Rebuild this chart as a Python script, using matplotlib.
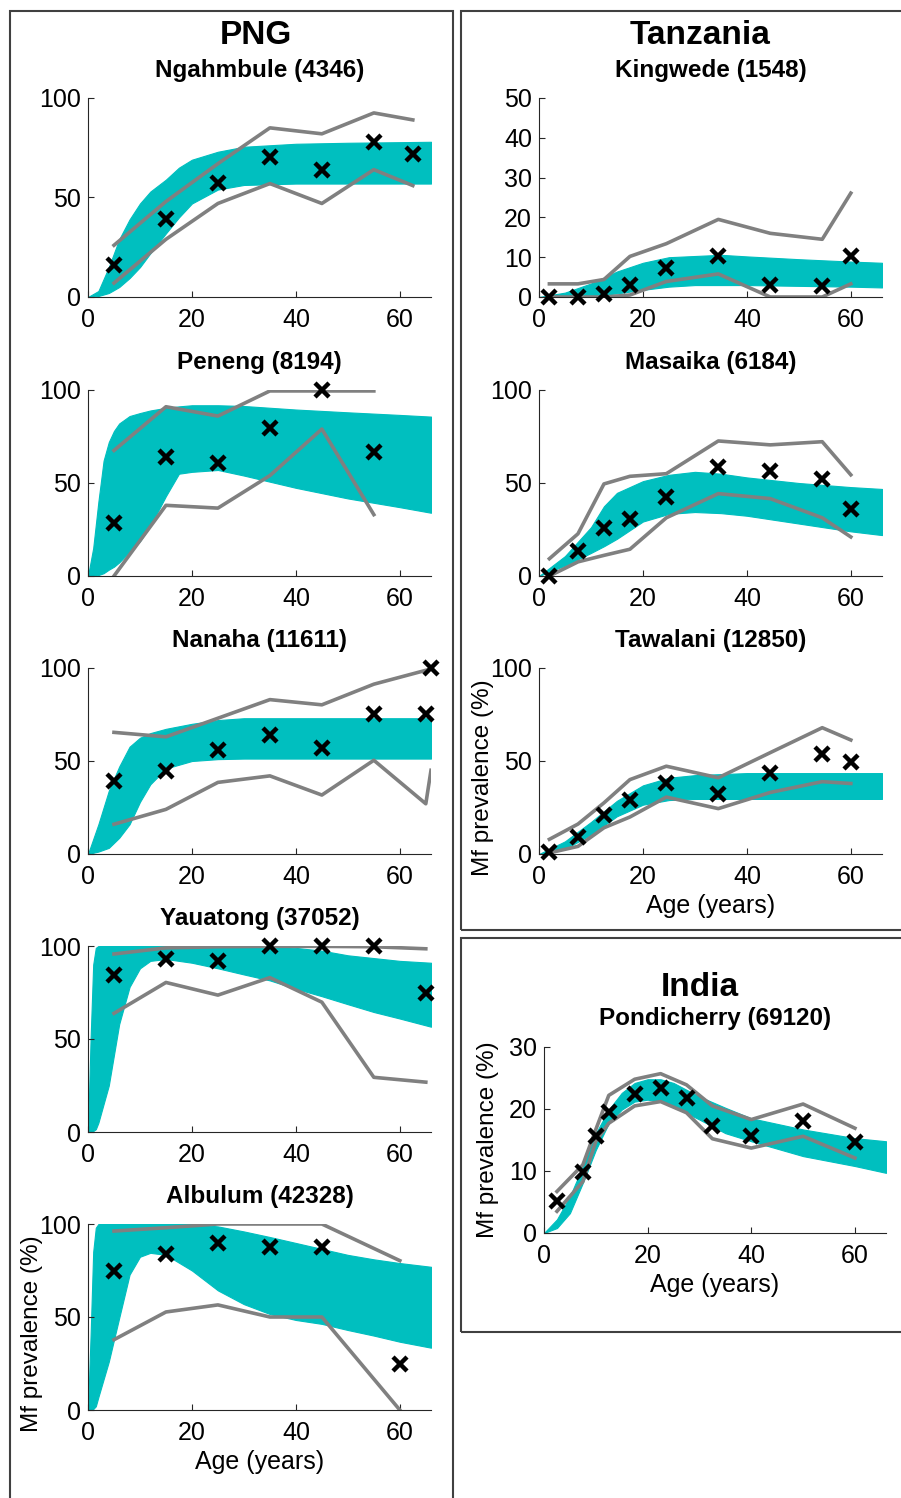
import matplotlib
matplotlib.use("Agg")
import matplotlib.pyplot as plt
from matplotlib.patches import Rectangle

plt.rcParams["font.family"] = ["Liberation Sans", "DejaVu Sans"]

W, H = 901, 1498
CYAN = "#00BFBF"
GREY = "#808080"
FRAME = "#404040"

# -----------------------------
# Data
# -----------------------------
# PNG
ngah_age = [5, 15, 25, 35, 45, 55, 62.5]
ngah_obs = [16, 39, 57.5, 70.5, 64, 78, 72]
ngah_hi = [26, 48, 67, 85, 82, 92.5, 89]
ngah_lo = [7, 29, 47, 57, 47, 64, 56]
ngah_band_age = [0, 2, 4, 6, 8, 10, 12, 15, 17.5, 20, 25, 30, 40, 50, 60, 66]
ngah_band_hi = [0, 3, 15, 29, 39, 47, 53, 59, 65, 69, 73, 75.5, 77, 77.5, 77.8, 78]
ngah_band_lo = [0, 0.5, 2, 5, 9.5, 15, 22, 32, 40, 47, 54, 56.3, 57, 57, 57, 57]

pen_age = [5, 15, 25, 35, 45, 55]
pen_obs = [28.5, 64, 61, 79.5, 100, 66.5]
pen_hi = [67.5, 91, 86, 99.5, 99.5, 99.5]
pen_lo = [0, 38, 36.5, 54, 79, 33]
pen_band_age = [0, 1, 2, 3, 4, 5, 6, 8, 10, 12, 15, 17.5, 20, 25, 30, 40, 50, 60, 66]
pen_band_hi = [0, 15, 40, 62, 72, 78, 82, 86, 87.6, 89, 90.4, 91.2, 91.8, 91.8, 91.4, 89.5, 88, 86.6, 85.7]
pen_band_lo = [0, 0, 0.5, 1.5, 3.4, 5, 7.3, 13, 18.7, 27, 43, 55, 56, 57, 54, 47.4, 41.7, 37, 34]

nan_age = [5, 15, 25, 35, 45, 55, 65, 66]
nan_obs = [39, 44.5, 56, 64, 57, 75, 75, 100]
nan_hi_age = [5, 15, 25, 35, 45, 55, 66]
nan_hi = [65.4, 63, 73, 83, 80.2, 91.3, 99.5]
nan_lo = [16, 24, 38.5, 42, 31.7, 50.4, 27, 45]
nan_band_age = [0, 2, 4, 6, 8, 10, 12, 15, 20, 25, 30, 40, 50, 60, 66]
nan_band_hi = [0, 16, 34, 47, 57.7, 62.5, 65, 67.3, 70, 72, 73, 73, 73, 73, 73]
nan_band_lo = [0, 1.3, 3.3, 8.7, 16, 28, 37.5, 46, 50, 51, 51.3, 51.3, 51.3, 51.3, 51.3]

yau_age = [5, 15, 25, 35, 45, 55, 65]
yau_obs = [84.3, 93.2, 92, 100, 100, 100, 75]
yau_hi = [95.7, 99, 99.6, 99.8, 99.8, 99.6, 98.5]
yau_lo = [63.8, 80.4, 73.6, 83, 69.8, 29.4, 26.8]
yau_band_age = [0, 0.5, 1, 1.5, 2, 4, 6, 8, 10, 12, 15, 20, 25, 30, 35, 40, 45, 50, 55, 60, 66]
yau_band_hi = [0, 50, 90, 99, 100, 100, 100, 100, 100, 100, 100, 100, 100, 100, 99.8, 99, 97.5, 95, 93.5, 92, 91]
yau_band_lo = [0, 0, 0.5, 1.5, 5, 25, 58, 78, 88, 92, 93, 91, 88, 84.7, 81.5, 77, 73, 68.7, 64.5, 61, 56.6]

alb_age = [5, 15, 25, 35, 45, 60]
alb_obs = [75, 84, 90, 87.7, 87.7, 25]
alb_hi = [96.2, 98, 100, 100, 100, 80.3]
alb_lo = [37.8, 52.7, 56.5, 50, 50, 0]
alb_band_age = yau_band_age
alb_band_hi = [0, 40, 85, 98, 100, 100, 100, 100, 100, 100, 100, 100, 98.7, 96, 93, 89.8, 86.6, 83.4, 81, 79, 77]
alb_band_lo = [0, 0, 0.5, 2, 7, 26, 49.5, 72.8, 82.4, 84.5, 83.4, 75, 64.3, 56.9, 51.6, 48.4, 46.3, 43, 40, 36.7, 33.5]

# Tanzania
tz_age = [2, 7.5, 12.5, 17.5, 24.5, 34.5, 44.5, 54.5, 60]

king_obs = [0, 0, 0.7, 3, 7.2, 10.4, 3, 2.8, 10.3]
king_hi = [3.3, 3.3, 4.4, 10.2, 13.4, 19.5, 16, 14.5, 26.1]
king_lo = [0, 0, 0, 0.5, 3.9, 5.8, 0, 0, 3.3]
king_band_age = [0, 5, 10, 15, 20, 25, 30, 35, 40, 50, 60, 66]
king_band_hi = [0, 1.1, 3.4, 6.4, 8.6, 10, 10.3, 10.6, 10.2, 9.5, 8.9, 8.6]
king_band_lo = [0, 0.1, 0.3, 0.9, 1.8, 2.6, 3, 3, 3, 2.8, 2.6, 2.4]

mas_obs = [0, 13.4, 25.8, 30.7, 42.7, 58.8, 56.5, 52, 35.9]
mas_hi = [9.3, 22.7, 49.5, 53.6, 55, 72.6, 70.5, 72.2, 54.4]
mas_lo = [0, 7.6, 11.1, 14.4, 31.3, 44.3, 41.6, 31.3, 21]
mas_band_age = [0, 5, 10, 12.5, 15, 20, 25, 30, 35, 40, 50, 60, 66]
mas_band_hi = [0, 10.7, 26.2, 37.5, 44.7, 51, 54.4, 56, 55, 53, 50, 47.8, 46.8]
mas_band_lo = [0, 5.6, 12.4, 16, 20, 29.3, 33.4, 34.4, 33.8, 32.4, 28.2, 24, 22]

taw_obs = [1.2, 8.9, 20.7, 29, 38.3, 32.1, 43.5, 53.8, 49.3]
taw_hi = [7.9, 16.1, 27.5, 40, 47.2, 41, 54.5, 67.9, 61.3]
taw_lo = [0.6, 4.1, 14.1, 19.9, 30.6, 24.4, 33.1, 38.9, 37.9]
taw_band_age = [0, 5, 10, 15, 20, 25, 30, 40, 50, 60, 66]
taw_band_hi = [0, 6.8, 17.2, 28.6, 36.9, 41, 42.4, 43.5, 43.5, 43.5, 43.5]
taw_band_lo = [0, 2.7, 10.4, 20.3, 26.5, 29, 29.6, 29.6, 29.6, 29.6, 29.6]

# India
pon_age = [2.5, 7.5, 10, 12.5, 17.5, 22.5, 27.5, 32.5, 40, 50, 60]
pon_obs = [5.1, 9.9, 15.7, 19.5, 22.5, 23.4, 21.7, 17.3, 15.6, 18.1, 14.7]
pon_hi = [6.7, 11, 16.7, 22.2, 24.8, 25.7, 23.9, 20.5, 18.3, 20.8, 16.9]
pon_lo = [3.5, 8.3, 14.8, 17.7, 20.5, 21.2, 19.4, 15.2, 13.7, 15.6, 12.1]
pon_band_age = [0, 2.5, 5, 7.5, 10, 12.5, 15, 17.5, 20, 22.5, 25, 30, 35, 40, 50, 60, 66]
pon_band_hi = [0, 2.2, 5.9, 10.8, 16.1, 19.9, 22.6, 24.2, 24.8, 24.8, 24.2, 22, 20.2, 18.5, 16.7, 15.3, 14.8]
pon_band_lo = [0, 0.8, 3.2, 8.1, 13.4, 17.7, 19.9, 21.2, 21.5, 21.2, 20.4, 18.3, 16.1, 14.8, 12.4, 10.8, 9.7]

# -----------------------------
# Panel table: title, axes box in px (x0, x1, top, bottom), ymax, yticks,
# obs/hi/lo series, band, y position of the y label (None = no axis labels)
# -----------------------------
L0, L1 = 88, 431
R0, R1 = 539, 882
panels = [
    ("Ngahmbule (4346)", (L0, L1, 98, 297), 100, [0, 50, 100],
     ngah_age, ngah_obs, ngah_age, ngah_hi, ngah_age, ngah_lo,
     ngah_band_age, ngah_band_hi, ngah_band_lo, None),
    ("Peneng (8194)", (L0, L1, 390, 576), 100, [0, 50, 100],
     pen_age, pen_obs, pen_age, pen_hi, pen_age, pen_lo,
     pen_band_age, pen_band_hi, pen_band_lo, None),
    ("Nanaha (11611)", (L0, L1, 668, 854), 100, [0, 50, 100],
     nan_age, nan_obs, nan_hi_age, nan_hi, nan_age, nan_lo,
     nan_band_age, nan_band_hi, nan_band_lo, None),
    ("Yauatong (37052)", (L0, L1, 946, 1132), 100, [0, 50, 100],
     yau_age, yau_obs, yau_age, yau_hi, yau_age, yau_lo,
     yau_band_age, yau_band_hi, yau_band_lo, None),
    ("Albulum (42328)", (L0, L1, 1224, 1410), 100, [0, 50, 100],
     alb_age, alb_obs, alb_age, alb_hi, alb_age, alb_lo,
     alb_band_age, alb_band_hi, alb_band_lo, 0.41),
    ("Kingwede (1548)", (R0, R1, 98, 297), 50, [0, 10, 20, 30, 40, 50],
     tz_age, king_obs, tz_age, king_hi, tz_age, king_lo,
     king_band_age, king_band_hi, king_band_lo, None),
    ("Masaika (6184)", (R0, R1, 390, 576), 100, [0, 50, 100],
     tz_age, mas_obs, tz_age, mas_hi, tz_age, mas_lo,
     mas_band_age, mas_band_hi, mas_band_lo, None),
    ("Tawalani (12850)", (R0, R1, 668, 854), 100, [0, 50, 100],
     tz_age, taw_obs, tz_age, taw_hi, tz_age, taw_lo,
     taw_band_age, taw_band_hi, taw_band_lo, 0.41),
    ("Pondicherry (69120)", (544, 886, 1047, 1233), 30, [0, 10, 20, 30],
     pon_age, pon_obs, pon_age, pon_hi, pon_age, pon_lo,
     pon_band_age, pon_band_hi, pon_band_lo, 0.5),
]

fig = plt.figure(figsize=(W / 100, H / 100), dpi=100)

# group frames
for x0, x1, y0, y1 in [(10, 453, 11, 1510), (461, 910, 11, 930), (461, 910, 938, 1332)]:
    fig.patches.append(Rectangle((x0 / W, 1 - y1 / H), (x1 - x0) / W, (y1 - y0) / H,
                                 transform=fig.transFigure, fill=False,
                                 edgecolor=FRAME, linewidth=1.5))

FS = 18
for (title, (x0, x1, top, bot), ymax, yticks, oa, ov, ha, hv, la, lv,
     ba, bh, bl, ylab_pos) in panels:
    ax = fig.add_axes([x0 / W, 1 - bot / H, (x1 - x0) / W, (bot - top) / H])
    ax.fill_between(ba, bl, bh, color=CYAN, linewidth=0.8, edgecolor=CYAN, zorder=1)
    ax.plot(ha, hv, color=GREY, lw=2.6, zorder=2)
    ax.plot(la, lv, color=GREY, lw=2.6, zorder=2)
    ax.plot(oa, ov, "x", color="black", ms=10.5, mew=3.2, zorder=3, clip_on=False)

    ax.set_xlim(0, 66)
    ax.set_ylim(0, ymax)
    ax.set_xticks([0, 20, 40, 60])
    ax.set_yticks(yticks)
    ax.spines["top"].set_visible(False)
    ax.spines["right"].set_visible(False)
    for s in ("left", "bottom"):
        ax.spines[s].set_color("#262626")
        ax.spines[s].set_linewidth(0.8)
    ax.tick_params(direction="in", length=4, width=0.8, color="#262626",
                   labelsize=FS)
    ax.tick_params(axis="x", pad=8)
    ax.tick_params(axis="y", pad=5)

    cx = (x0 + x1) / 2
    fig.text(cx / W, 1 - (top - 28) / H, title, ha="center", va="center",
             fontsize=17.5, fontweight="bold")

    if ylab_pos is not None:
        ax.set_ylabel("Mf prevalence (%)", fontsize=17.5, va="center")
        ax.yaxis.set_label_coords(-56 / (x1 - x0), ylab_pos)
        ax.set_xlabel("Age (years)", fontsize=FS, va="center")
        ax.xaxis.set_label_coords(0.5, -52 / (bot - top))

# country headings
fig.text(256 / W, 1 - 36 / H, "PNG", ha="center", va="center", fontsize=24, fontweight="bold")
fig.text(700 / W, 1 - 36 / H, "Tanzania", ha="center", va="center", fontsize=24, fontweight="bold")
fig.text(700 / W, 1 - 988 / H, "India", ha="center", va="center", fontsize=24, fontweight="bold")

fig.savefig("out.png", dpi=100)
